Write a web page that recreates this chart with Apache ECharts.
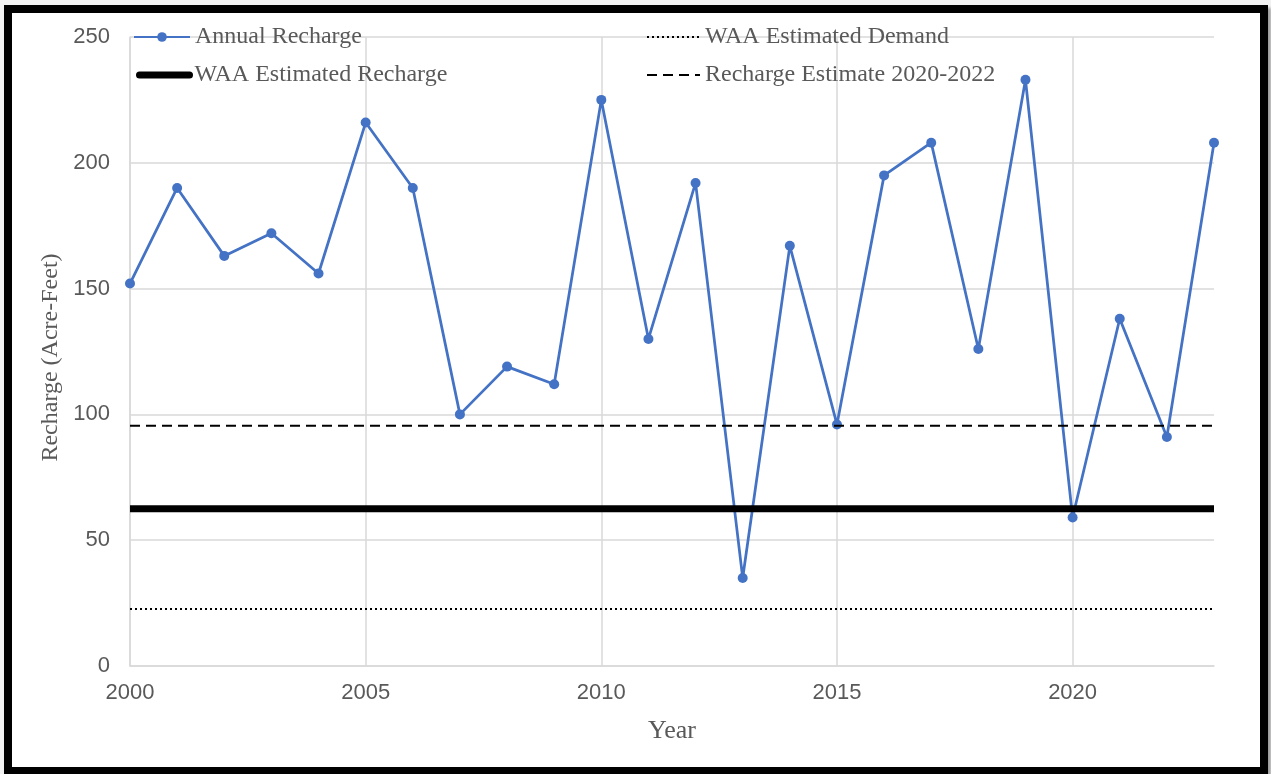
<!DOCTYPE html>
<html>
<head>
<meta charset="utf-8">
<script src="https://cdn.jsdelivr.net/npm/echarts@6/dist/echarts.min.js"></script>
<style>
html,body{margin:0;padding:0;background:#f2f2f2;}
#chart{position:absolute;left:12px;top:13px;width:1248px;height:754px;background:#fff;}
#frame{position:absolute;left:4px;top:5px;width:1248px;height:754px;border:8px solid #000;box-shadow:3px 3px 3px #9a9a9a;pointer-events:none;}
</style>
</head>
<body>
<div id="chart"></div>
<div id="frame"></div>
<script>
const years = [2000,2001,2002,2003,2004,2005,2006,2007,2008,2009,2010,2011,2012,2013,2014,2015,2016,2017,2018,2019,2020,2021,2022,2023];
const annualRecharge = [152,190,163,172,156,216,190,100,119,112,225,130,192,35,167,96,195,208,126,233,59,138,91,208];
const waaEstimatedRecharge = 62.5;
const waaEstimatedDemand = 22.7;
const rechargeEstimate2020_2022 = 95.5;
const xTicks = [2000,2005,2010,2015,2020];
const yTicks = [0,50,100,150,200,250];

const ox = 12, oy = 13;
const chart = echarts.init(document.getElementById('chart'));
const xr = [years[0], years[years.length-1]];
const flat = v => [[xr[0], v], [xr[1], v]];
const serif = '"Liberation Serif", "Times New Roman", serif';
const sans = '"Liberation Sans", Arial, sans-serif';
const noSym = {color: 'rgba(0,0,0,0)', borderWidth: 0, opacity: 0};
const legendBase = {
  orient: 'horizontal', padding: 0, itemWidth: 56, itemHeight: 12,
  textStyle: {fontFamily: serif, fontSize: 24, color: '#595959'}
};
chart.setOption({
  animation: false,
  grid: {left: 130-ox, right: 1260-1214, top: 37-oy, bottom: 767-666},
  legend: [
    Object.assign({}, legendBase, {left: 133-ox, top: 25-oy, data: ['Annual Recharge']}),
    Object.assign({}, legendBase, {left: 136-ox, top: 63-oy, itemWidth: 50, data: [{name: 'WAA Estimated Recharge', itemStyle: noSym, lineStyle: {width: 7, cap: 'round'}}]}),
    Object.assign({}, legendBase, {left: 646-ox, top: 25-oy, itemWidth: 53, data: [{name: 'WAA Estimated Demand', itemStyle: noSym}]}),
    Object.assign({}, legendBase, {left: 646-ox, top: 63-oy, itemWidth: 53, data: [{name: 'Recharge Estimate 2020-2022', itemStyle: noSym}]})
  ],
  xAxis: {
    type: 'value', min: xr[0], max: xr[1], interval: 5,
    name: 'Year', nameLocation: 'middle', nameGap: 52,
    nameTextStyle: {fontFamily: serif, fontSize: 26, color: '#595959'},
    axisLine: {show: true, lineStyle: {color: '#d9d9d9', width: 1.5}},
    axisTick: {show: false, customValues: xTicks},
    axisLabel: {customValues: xTicks, formatter: v => String(v), fontFamily: sans, fontSize: 22, color: '#595959', margin: 16},
    splitLine: {show: true, lineStyle: {color: '#d9d9d9', width: 1.5}}
  },
  yAxis: {
    type: 'value', min: 0, max: 250, interval: 50,
    name: 'Recharge (Acre-Feet)', nameLocation: 'middle', nameGap: 56,
    nameTextStyle: {fontFamily: serif, fontSize: 24, color: '#595959', padding: [0, 12, 0, 0]},
    axisLine: {show: true, lineStyle: {color: '#d9d9d9', width: 1.5}},
    axisTick: {show: false},
    axisLabel: {formatter: v => String(v), fontFamily: sans, fontSize: 22, color: '#595959', margin: 20},
    splitLine: {show: true, lineStyle: {color: '#d9d9d9', width: 1.5}}
  },
  series: [
    {name: 'Annual Recharge', type: 'line', data: years.map((y,i)=>[y, annualRecharge[i]]),
     symbol: 'circle', symbolSize: 10, lineStyle: {color: '#4472C4', width: 2.75}, itemStyle: {color: '#4472C4'}, z: 2},
    {name: 'WAA Estimated Recharge', type: 'line', data: flat(waaEstimatedRecharge), symbol: 'none',
     lineStyle: {color: '#000', width: 7}, itemStyle: {color: '#000'}, z: 3},
    {name: 'WAA Estimated Demand', type: 'line', data: flat(waaEstimatedDemand), symbol: 'none',
     lineStyle: {color: '#000', width: 2, type: [2, 3]}, itemStyle: {color: '#000'}, z: 3},
    {name: 'Recharge Estimate 2020-2022', type: 'line', data: flat(rechargeEstimate2020_2022), symbol: 'none',
     lineStyle: {color: '#000', width: 2, type: [10, 6]}, itemStyle: {color: '#000'}, z: 3}
  ]
});
</script>
</body>
</html>
